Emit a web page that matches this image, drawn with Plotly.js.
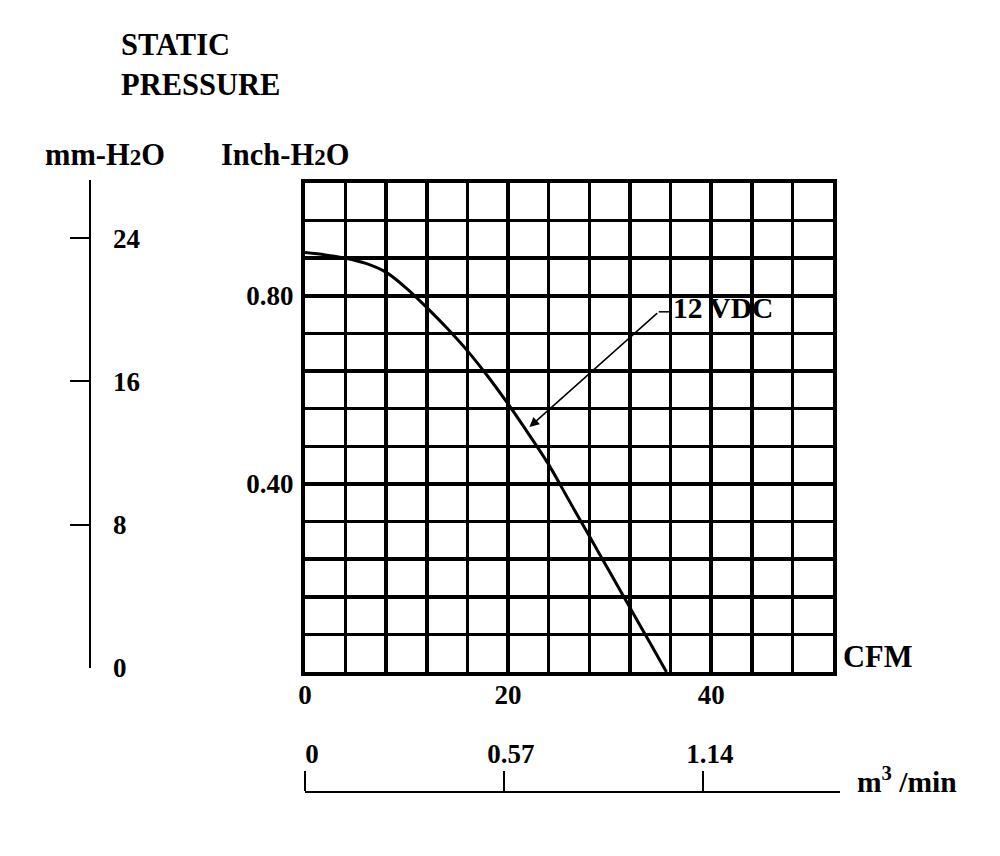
<!DOCTYPE html>
<html>
<head>
<meta charset="utf-8">
<script src="https://cdn.plot.ly/plotly-3.0.1.min.js"></script>
<style>
  html, body { margin: 0; padding: 0; background: #fff; }
  #chart { width: 1000px; height: 856px; }
</style>
</head>
<body>
<div id="chart"></div>
<script>
// fan curve
var cfm = [0, 2, 4, 6, 8, 10, 12, 14, 16, 18, 20, 22, 24, 26, 28, 30, 32, 34, 35.6];
var inchH2O = [0.892, 0.887, 0.880, 0.869, 0.850, 0.816, 0.775, 0.731, 0.683, 0.629, 0.570, 0.507, 0.441, 0.365, 0.289, 0.213, 0.137, 0.061, 0];
var curveLabel = '12 VDC';

// axis ticks
var cfmTicks = [0, 20, 40];
var inchTicks = [0.40, 0.80];
var inchTickText = ['0.40', '0.80'];
var mmTicks = [0, 8, 16, 24];
var m3Ticks = [0, 0.57, 1.14];
var m3TickText = ['0', '0.57', '1.14'];

var font = 'Liberation Serif, Times New Roman, serif';
var W = 1000, H = 856;
function px(x) { return x / W; }
function py(y) { return 1 - y / H; }

function drawChart() {
  var data = [{
    x: cfm,
    y: inchH2O,
    type: 'scatter',
    mode: 'lines',
    line: { color: '#000', width: 3, shape: 'spline', smoothing: 1.0 },
    hoverinfo: 'skip'
  }, {
    // empty traces so the side scales get their subplots
    x: [], y: [], xaxis: 'x3', yaxis: 'y2', type: 'scatter'
  }, {
    x: [], y: [], xaxis: 'x2', yaxis: 'y3', type: 'scatter'
  }];

  var tickFont = { family: font, size: 27, color: '#000', weight: 'bold' };

  var layout = {
    width: W,
    height: H,
    margin: { l: 0, r: 0, t: 0, b: 0 },
    paper_bgcolor: '#fff',
    plot_bgcolor: '#fff',
    showlegend: false,
    font: { family: font, color: '#000' },
    xaxis: {
      domain: [px(305), px(833)],
      range: [0, 52],
      tickmode: 'array',
      tickvals: cfmTicks,
      ticks: '',
      showgrid: true,
      gridcolor: '#000',
      gridwidth: 3.5,
      minor: { dtick: 4, showgrid: true, gridcolor: '#000', gridwidth: 3.5 },
      zeroline: false,
      showline: true,
      mirror: true,
      linecolor: '#000',
      linewidth: 4,
      tickfont: tickFont,
      ticklabelstandoff: -4,
      fixedrange: true
    },
    yaxis: {
      domain: [py(672), py(183)],
      range: [0, 1.04],
      tickmode: 'array',
      tickvals: inchTicks,
      ticktext: inchTickText,
      ticks: '',
      showgrid: true,
      gridcolor: '#000',
      gridwidth: 3.5,
      minor: { dtick: 0.08, showgrid: true, gridcolor: '#000', gridwidth: 3.5 },
      zeroline: false,
      showline: true,
      mirror: true,
      linecolor: '#000',
      linewidth: 4,
      tickfont: tickFont,
      ticklabelstandoff: 2,
      fixedrange: true
    },
    // mm-H2O scale on the far left
    xaxis3: { domain: [0, px(88.5)], anchor: 'y2', visible: false, range: [0, 1], fixedrange: true },
    yaxis2: {
      domain: [py(668), py(180)],
      anchor: 'x3',
      side: 'right',
      range: [0, 27.25],
      tickmode: 'array',
      tickvals: mmTicks,
      ticks: 'inside',
      ticklen: 19,
      tickwidth: 2,
      tickcolor: '#000',
      showgrid: false,
      zeroline: false,
      showline: true,
      linecolor: '#000',
      linewidth: 2,
      tickfont: tickFont,
      ticklabelstandoff: 17,
      fixedrange: true
    },
    // m3/min scale under the chart
    yaxis3: { domain: [0, py(793)], anchor: 'x2', visible: false, range: [0, 1], fixedrange: true },
    xaxis2: {
      domain: [px(305), px(840)],
      anchor: 'y3',
      side: 'top',
      range: [0, 1.5325],
      tickmode: 'array',
      tickvals: m3Ticks,
      ticktext: m3TickText,
      ticks: 'outside',
      ticklen: 20,
      tickwidth: 2,
      tickcolor: '#000',
      showgrid: false,
      zeroline: false,
      showline: true,
      linecolor: '#000',
      linewidth: 2,
      tickfont: tickFont,
      ticklabelshift: 7,
      ticklabelstandoff: -3,
      fixedrange: true
    },
    shapes: [{
      // short leader next to the label
      type: 'line', xref: 'x', yref: 'y',
      x0: 34.84, y0: 0.766, x1: 36.1, y1: 0.766,
      line: { color: '#000', width: 1.5 }
    }],
    annotations: [{
      xref: 'paper', yref: 'paper', x: px(119), y: py(26),
      xanchor: 'left', yanchor: 'top', align: 'left', showarrow: false,
      text: '<b>STATIC<br>PRESSURE</b>',
      font: { family: font, size: 30.5, color: '#000' }
    }, {
      xref: 'paper', yref: 'paper', x: px(105), y: py(155),
      xanchor: 'center', yanchor: 'middle', showarrow: false,
      text: '<b>mm-H<span style="font-size:23px">2</span>O</b>',
      font: { family: font, size: 30.5, color: '#000' }
    }, {
      xref: 'paper', yref: 'paper', x: px(285), y: py(155),
      xanchor: 'center', yanchor: 'middle', showarrow: false,
      text: '<b>Inch-H<span style="font-size:23px">2</span>O</b>',
      font: { family: font, size: 30.5, color: '#000' }
    }, {
      xref: 'paper', yref: 'paper', x: px(841), y: py(657),
      xanchor: 'left', yanchor: 'middle', showarrow: false,
      text: '<b>CFM</b>',
      font: { family: font, size: 30.5, color: '#000' }
    }, {
      xref: 'paper', yref: 'paper', x: px(855), y: py(780),
      xanchor: 'left', yanchor: 'middle', showarrow: false,
      text: '<b>m<sup>3</sup> /min</b>',
      font: { family: font, size: 29.5, color: '#000' }
    }, {
      xref: 'x', yref: 'y', x: 36.0, y: 0.774,
      xanchor: 'left', yanchor: 'middle', showarrow: false,
      text: '<b>' + curveLabel + '</b>',
      font: { family: font, size: 29.5, color: '#000' }
    }, {
      // arrow from the leader down to the curve
      xref: 'x', yref: 'y', axref: 'x', ayref: 'y',
      x: 22.1, y: 0.521, ax: 34.84, ay: 0.766,
      text: '', showarrow: true,
      arrowhead: 2, arrowsize: 1.3, arrowwidth: 1.5, arrowcolor: '#000'
    }]
  };

  Plotly.newPlot('chart', data, layout, { displayModeBar: false, staticPlot: true });
}

drawChart();
</script>
</body>
</html>
